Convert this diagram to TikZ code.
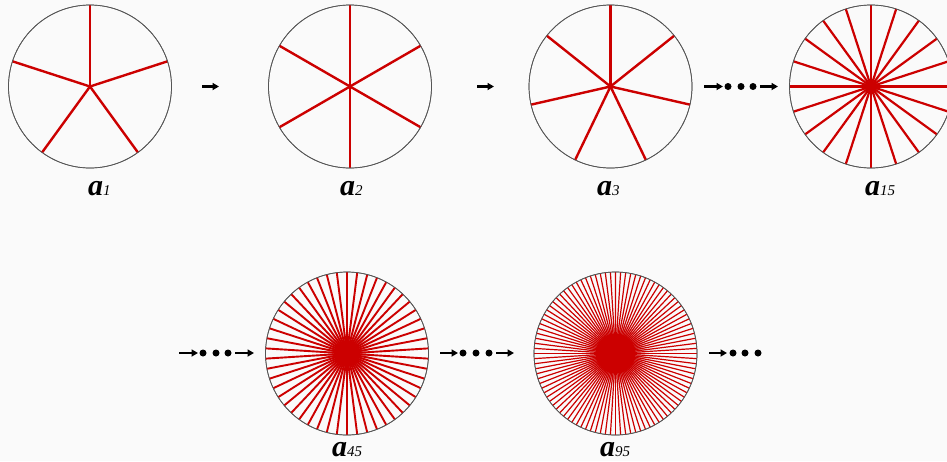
\documentclass[tikz,border=0pt]{standalone}
\usepackage{fontspec}
\setmainfont{Liberation Serif}
\usetikzlibrary{arrows.meta,fadings}
\definecolor{spokered}{HTML}{CC0000}
\definecolor{bg}{HTML}{FAFAFA}
\definecolor{rimgray}{HTML}{555555}
\tikzfading[name=blobfade, inner color=transparent!0, outer color=transparent!100]
\tikzset{
  rim/.style={circle, draw=rimgray, line width=0.7pt, minimum size=163pt, inner sep=0pt},
  spoke/.style={draw=spokered, line width=#1},
  flow/.style={line width=2.6pt, -{Triangle[length=6.5pt,width=7pt]}},
  bigdot/.style={circle, fill=black, minimum size=7pt, inner sep=0pt},
  lab/.style={anchor=base west, inner sep=0pt},
  blob/.style={fill=spokered, path fading=blobfade}
}
\newcommand{\lbl}[1]{{\fontsize{30}{30}\selectfont\bfseries\itshape a}{\fontsize{15}{15}\selectfont\itshape #1}}
\begin{document}
\begin{tikzpicture}[x=1pt,y=-1pt]
\fill[bg] (0,0) rectangle (947,461);
\useasboundingbox (0,0) rectangle (947,461);
% wheels: name, cx, cy, count, width
\foreach \nm/\cx/\cy/\n/\w in {w1/90/86.5/5/2.4pt, w2/350/86.5/6/2.4pt, w3/610.5/86.5/7/2.4pt, w15/871/86.5/20/2.2pt, w45/347/353.5/50/1.9pt, w95/615.5/353.5/100/1.2pt}{
  \node[rim] (\nm) at (\cx,\cy) {};
  \foreach \k in {1,...,\n}{
    \draw[spoke=\w] (\nm.center) -- ++({90+(360/\n)*\k}:-81.5);
  }
  \node[rim, fill=none] at (\cx,\cy) {};
}
% dense centres
\fill[spokered] (w45.center) circle[radius=13];
\fill[blob] (w45.center) circle[radius=22];
\fill[spokered] (w95.center) circle[radius=20];
\fill[blob] (w95.center) circle[radius=32];
% labels
\node[lab] (l1) at (88,195) {\lbl{1}};
\node[lab] (l2) at (340,195) {\lbl{2}};
\node[lab] (l3) at (597,195) {\lbl{3}};
\node[lab] (l15) at (865,195) {\lbl{15}};
\node[lab] (l45) at (332,456) {\lbl{45}};
\node[lab] (l95) at (600,456) {\lbl{95}};
% top arrows
\coordinate (a1s) at (202,86.5); \coordinate (a1e) at (219,86.5);
\draw[flow] (a1s) -- (a1e);
\coordinate (a2s) at (477,86.5); \coordinate (a2e) at (494,86.5);
\draw[flow] (a2s) -- (a2e);
\coordinate (a3s) at (704,86.5); \coordinate (a3e) at (723,86.5);
\draw[flow] (a3s) -- (a3e);
\node[bigdot] (d31) at (728,86.5) {};
\node[bigdot] (d32) at (741,86.5) {};
\node[bigdot] (d33) at (753,86.5) {};
\coordinate (a4s) at (760,86.5); \coordinate (a4e) at (778,86.5);
\draw[flow] (a4s) -- (a4e);
% bottom arrows
\coordinate (b1s) at (179,353); \coordinate (b1e) at (198,353);
\draw[flow] (b1s) -- (b1e);
\node[bigdot] (e1) at (203,353) {};
\node[bigdot] (e2) at (216,353) {};
\node[bigdot] (e3) at (228,353) {};
\coordinate (b2s) at (235,353); \coordinate (b2e) at (254,353);
\draw[flow] (b2s) -- (b2e);
\coordinate (b3s) at (440,353); \coordinate (b3e) at (458,353);
\draw[flow] (b3s) -- (b3e);
\node[bigdot] (f1) at (463,353) {};
\node[bigdot] (f2) at (476,353) {};
\node[bigdot] (f3) at (489,353) {};
\coordinate (b4s) at (496,353); \coordinate (b4e) at (514,353);
\draw[flow] (b4s) -- (b4e);
\coordinate (b5s) at (709,353); \coordinate (b5e) at (727,353);
\draw[flow] (b5s) -- (b5e);
\node[bigdot] (g1) at (733,353) {};
\node[bigdot] (g2) at (745,353) {};
\node[bigdot] (g3) at (758,353) {};
\end{tikzpicture}
\end{document}
